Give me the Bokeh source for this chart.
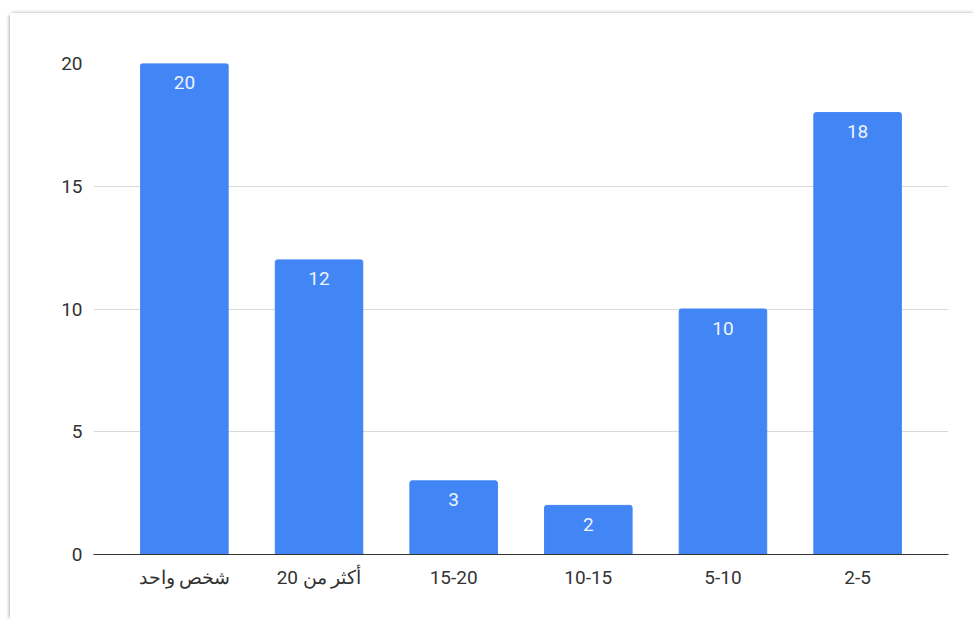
from bokeh.plotting import figure
from bokeh.models import ColumnDataSource, FactorRange, FixedTicker
from bokeh.core.properties import value
from bokeh.embed import file_html
from bokeh.resources import INLINE

categories = ["شخص واحد", "أكثر من 20", "15-20", "10-15", "5-10", "2-5"]
counts = [20, 12, 3, 2, 10, 18]
y_ticks = [0, 5, 10, 15, 20]

src = ColumnDataSource(dict(cat=categories, val=counts, lab=[str(v) for v in counts]))

p = figure(
    width=965, height=607,
    x_range=FactorRange(factors=categories, range_padding=0.175, range_padding_units="absolute"),
    y_range=(0, 20),
    output_backend="svg", toolbar_location=None,
    min_border_left=83, min_border_right=27, min_border_top=50, min_border_bottom=66,
)
p.margin = (13, 0, 0, 10)
p.styles = {"box-shadow": "-3px 0 3px -2px rgba(0,0,0,0.3), 0 -3px 3px -2px rgba(0,0,0,0.2)"}
p.outline_line_color = None
p.background_fill_color = "white"
p.border_fill_color = "white"

p.vbar(x="cat", top="val", width=0.65, source=src, color="#4285F4", border_radius=[2, 2, 0, 0])
p.text(x="cat", y="val", text="lab", source=src, text_align="center", text_baseline="middle",
       y_offset=19, text_color="#eef3fd", text_font=value("Roboto"), text_font_size="19px")

p.xgrid.grid_line_color = None
p.ygrid.grid_line_color = "#d9d9d9"
p.ygrid.grid_line_width = 1
p.yaxis.ticker = FixedTicker(ticks=y_ticks)
p.yaxis.axis_line_color = None
p.yaxis.major_tick_line_color = None
p.yaxis.minor_tick_line_color = None
p.yaxis.major_label_standoff = 5
p.yaxis.major_label_text_font = "Roboto"
p.yaxis.major_label_text_font_size = "19px"
p.yaxis.major_label_text_color = "#333333"

p.xaxis.axis_line_color = "#333333"
p.xaxis.axis_line_width = 1
p.xaxis.major_tick_line_color = None
p.xaxis.minor_tick_line_color = None
p.xaxis.major_label_standoff = 5
p.xaxis.major_label_text_font = "Roboto"
p.xaxis.major_label_text_font_size = "19px"
p.xaxis.major_label_text_color = "#333333"

open("out.html", "w").write(file_html(p, INLINE))
